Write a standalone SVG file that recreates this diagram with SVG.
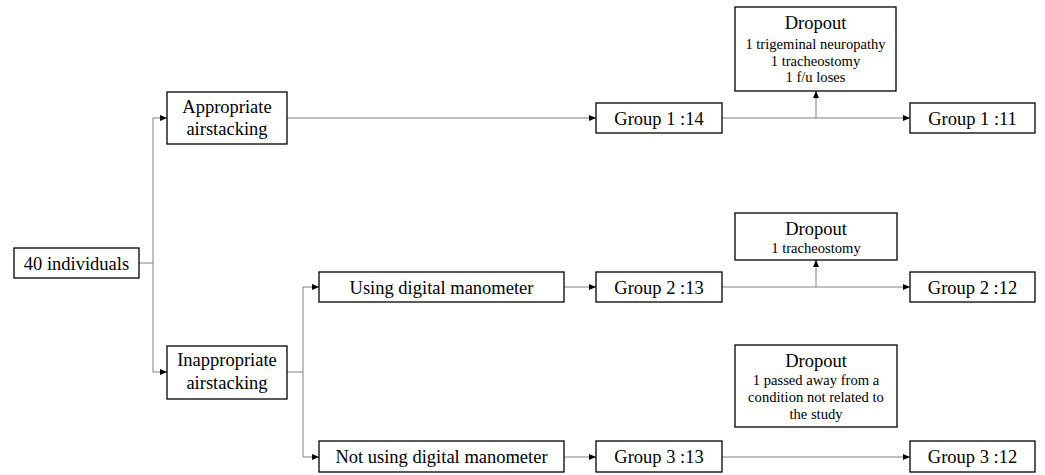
<svg xmlns="http://www.w3.org/2000/svg" width="1045" height="475" viewBox="0 0 1045 475">
<style>
.box{fill:#fff;stroke:#000;stroke-width:1.3}
.t{font-family:"Liberation Serif","Times New Roman",serif;font-size:18.5px;fill:#000;text-anchor:middle}
.s{font-family:"Liberation Serif","Times New Roman",serif;font-size:14.6px;fill:#000;text-anchor:middle}
.c{fill:none;stroke:#808080;stroke-width:1}
</style>
<defs>
<marker id="a" markerWidth="7" markerHeight="6" refX="7" refY="3" orient="auto" markerUnits="userSpaceOnUse">
<path d="M0,0 L7,3 L0,6 Z" fill="#000"/>
</marker>
</defs>
<rect width="1045" height="475" fill="#fff"/>
<g id="connectors">
<path class="c" d="M139,263 H153"/>
<path class="c" d="M153,118 V372"/>
<path class="c" d="M153,118 H167" marker-end="url(#a)"/>
<path class="c" d="M153,372 H167" marker-end="url(#a)"/>
<path class="c" d="M287,118 H596" marker-end="url(#a)"/>
<path class="c" d="M287,372 H303"/>
<path class="c" d="M303,287 V457"/>
<path class="c" d="M303,287 H319" marker-end="url(#a)"/>
<path class="c" d="M303,457 H319" marker-end="url(#a)"/>
<path class="c" d="M564,287 H596" marker-end="url(#a)"/>
<path class="c" d="M564,457 H596" marker-end="url(#a)"/>
<path class="c" d="M722,118 H910" marker-end="url(#a)"/>
<path class="c" d="M816,118 V91" marker-end="url(#a)"/>
<path class="c" d="M722,287 H910" marker-end="url(#a)"/>
<path class="c" d="M816,287 V260" marker-end="url(#a)"/>
<path class="c" d="M722,457 H910" marker-end="url(#a)"/>
</g>
<g id="n40">
<rect class="box" x="14" y="248" width="125" height="30"/>
<text class="t" x="76.5" y="269.5">40 individuals</text>
</g>
<g id="appropriate">
<rect class="box" x="167" y="92" width="120" height="52"/>
<text class="t" x="227" y="113">Appropriate</text>
<text class="t" x="227" y="135">airstacking</text>
</g>
<g id="inappropriate">
<rect class="box" x="167" y="346" width="120" height="53"/>
<text class="t" x="227" y="366">Inappropriate</text>
<text class="t" x="227" y="389">airstacking</text>
</g>
<g id="using">
<rect class="box" x="319" y="272" width="245" height="30"/>
<text class="t" x="441.5" y="293.5">Using digital manometer</text>
</g>
<g id="notusing">
<rect class="box" x="319" y="441" width="245" height="31"/>
<text class="t" x="441.5" y="462.5">Not using digital manometer</text>
</g>
<g id="g1a">
<rect class="box" x="596" y="103" width="126" height="30"/>
<text class="t" x="659" y="124.5">Group 1 :14</text>
</g>
<g id="g2a">
<rect class="box" x="596" y="272" width="126" height="30"/>
<text class="t" x="659" y="293.5">Group 2 :13</text>
</g>
<g id="g3a">
<rect class="box" x="596" y="441" width="126" height="31"/>
<text class="t" x="659" y="462.5">Group 3 :13</text>
</g>
<g id="g1b">
<rect class="box" x="910" y="103" width="125" height="30"/>
<text class="t" x="972.5" y="124.5">Group 1 :11</text>
</g>
<g id="g2b">
<rect class="box" x="910" y="272" width="125" height="30"/>
<text class="t" x="972.5" y="293.5">Group 2 :12</text>
</g>
<g id="g3b">
<rect class="box" x="910" y="441" width="125" height="31"/>
<text class="t" x="972.5" y="462.5">Group 3 :12</text>
</g>
<g id="drop1">
<rect class="box" x="735" y="7" width="161" height="84"/>
<text class="t" x="815.5" y="29">Dropout</text>
<text class="s" x="815.5" y="49">1 trigeminal neuropathy</text>
<text class="s" x="815.5" y="65.5">1 tracheostomy</text>
<text class="s" x="815.5" y="82">1 f/u loses</text>
</g>
<g id="drop2">
<rect class="box" x="735" y="213" width="162" height="47"/>
<text class="t" x="816" y="235">Dropout</text>
<text class="s" x="816" y="253">1 tracheostomy</text>
</g>
<g id="drop3">
<rect class="box" x="735" y="345" width="162" height="82"/>
<text class="t" x="816" y="367">Dropout</text>
<text class="s" x="816" y="385">1 passed away from a</text>
<text class="s" x="816" y="402">condition not related to</text>
<text class="s" x="816" y="418.5">the study</text>
</g>
</svg>
